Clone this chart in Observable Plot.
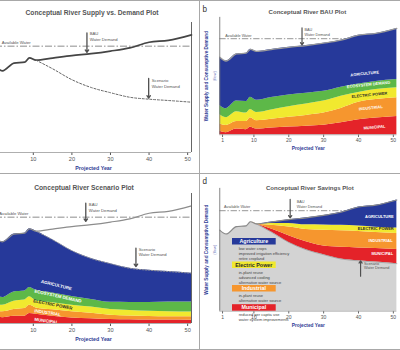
<!DOCTYPE html>
<html><head><meta charset="utf-8">
<script src="https://cdn.jsdelivr.net/npm/d3@7"></script>
<script src="https://cdn.jsdelivr.net/npm/@observablehq/plot@0.6"></script>
<style>
body{margin:0;background:#fff;}
#root{position:relative;width:400px;height:350px;overflow:hidden;background:#fff;font-family:"Liberation Sans",Arial,Helvetica,sans-serif;}
.panel{position:absolute;}
.hline{position:absolute;left:0;width:400px;height:0;border-top:1px solid #a8a8a8;}
.vline{position:absolute;top:0;height:350px;width:0;border-left:1px solid #a8a8a8;}
#legend{position:absolute;left:232.3px;top:237.6px;overflow:visible;}
</style></head>
<body><div id="root"></div>
<script>
// ---------- data ----------
const years          = [0.2, 2, 5, 7.8, 9, 10.7, 15, 20, 25, 30, 35, 40, 45, 51];
const xTicks         = [1, 10, 20, 30, 40, 50];
const availableWater = 81.8;
const bauDemand      = [66, 62.8, 68.8, 69.5, 72.8, 71, 72.6, 74.5, 76, 78, 80.5, 84.8, 86.3, 90.5];
const scenarioDemand = [66, 62.8, 68.8, 69.5, 72.8, 71, 64.4, 56, 50, 46, 42.5, 41, 40, 38.7];

// BAU consumptive demand by sector
const bauMunicipal   = [3, 1.8, 4.9, 4.4, 6.4, 4.9, 5.9, 6.7, 7.4, 8.2, 10.3, 12.8, 14.3, 15.5];
const bauIndustrial  = [6.5, 6.2, 6.4, 6.9, 8.2, 7.1, 7.4, 8.3, 9.1, 10.3, 12.2, 14.9, 15.8, 16];
const bauElectric    = [7.5, 6.6, 8.4, 7.2, 6.9, 7, 7.9, 9, 9.7, 10.2, 10.3, 8.3, 8.4, 8.5];
const bauEcosystem   = [8, 7.7, 9, 9.8, 10.5, 10.5, 10.6, 10, 9.3, 8.3, 7.7, 7.2, 7, 7];
const bauAgriculture = [41, 40.5, 40.1, 41.2, 40.8, 41.5, 40.8, 40.5, 40.5, 41, 40, 41.6, 40.8, 43.5];

// Scenario consumptive demand by sector
const scnMunicipal   = [4.8, 4.5, 5.6, 5.6, 7.7, 7.2, 5.5, 4.2, 3.6, 3, 2.8, 2.6, 2.6, 2.5];
const scnIndustrial  = [4.7, 4.5, 5.2, 5.9, 6.3, 4.8, 5, 4.8, 4.2, 3.4, 3, 2.8, 2.6, 2.6];
const scnElectric    = [5.5, 5, 6.4, 6.5, 6.5, 5.5, 5.5, 5, 4.8, 4.4, 4.2, 4, 3.9, 3.8];
const scnEcosystem   = [6, 6, 7.1, 7, 7.2, 8, 7.5, 6.8, 5.9, 5.5, 6.2, 6.8, 7.4, 7.7];
const scnAgriculture = [45, 42.8, 44.5, 44.5, 45.1, 45.5, 40.9, 35.2, 31.5, 29.7, 26.3, 24.8, 23.5, 22.1];

// Savings (BAU minus scenario) by sector
const savMunicipal   = [0, 0, 0, 0, 0, 0, 2.5, 5.5, 6.5, 7, 9.5, 10.5, 11, 11.5];
const savIndustrial  = [0, 0, 0, 0, 0, 0, 3, 7, 10, 13, 13.5, 13.5, 13, 13];
const savElectric    = [0, 0, 0, 0, 0, 0, 1.5, 3, 3.8, 4.2, 4.4, 4.4, 4.4, 4.5];
const savAgriculture = [0, 0, 0, 0, 0, 0, 1.2, 3, 5.7, 7.8, 10.6, 15.4, 17.9, 22.8];

const sectors      = ["Municipal", "Industrial", "Electric Power", "Ecosystem Demand", "Agriculture", "Scenario"];
const sectorColors = ["#e42329", "#f6962e", "#f1e92f", "#5db848", "#26399a", "#d3d3d3"];

const savingsMeasures = [
  {sector: "Agriculture", notes: ["low water crops", "improved irrigation efficiency", "retire cropland"]},
  {sector: "Electric Power", notes: ["in-plant reuse", "advanced cooling", "alternative water source"]},
  {sector: "Industrial", notes: ["in-plant reuse", "alternative water source"]},
  {sector: "Municipal", notes: ["reduced per capita use", "water system improvements"]}
];

// annotation anchors (year, value)
const arrowsA = [{x: 23.9, y1: 92, y2: 77}, {x: 39.9, y1: 57, y2: 41.8}];
const notesA  = [{x: 24.6, y: 93, text: "BAU\nWater Demand"}, {x: 40.7, y: 57, text: "Scenario\nWater Demand"}];
const arrowsB = [{x: 23.8, y1: 91, y2: 76.5}];
const notesB  = [{x: 24.5, y: 91.5, text: "BAU\nWater Demand"}];
const arrowsC = [{x: 23.6, y1: 92.5, y2: 78.5}, {x: 36.6, y1: 58, y2: 43.8}];
const notesC  = [{x: 24.4, y: 93.3, text: "BAU\nWater Demand"}, {x: 37.3, y: 59, text: "Scenario\nWater Demand"}];
const arrowsD = [{x: 20.4, y1: 91, y2: 76}, {x: 40.6, y1: 28.5, y2: 41}];
const notesD  = [{x: 22.3, y: 91, text: "BAU\nWater Demand"}, {x: 41.6, y: 40.8, text: "Scenario\nWater Demand"}];

const labelsB = [
  {sector: "Agriculture", x: 37.7, y: 50.8, r: -6},
  {sector: "Ecosystem Demand", x: 36.7, y: 40.8, r: -6},
  {sector: "Electric Power", x: 38, y: 32.3, r: -6},
  {sector: "Industrial", x: 40.1, y: 21.8, r: -6},
  {sector: "Municipal", x: 41.5, y: 5.6, r: -5}
];
const labelsC = [
  {sector: "Agriculture", x: 12, y: 32.5, r: 14},
  {sector: "Ecosystem Demand", x: 10.3, y: 25, r: 12.5},
  {sector: "Electric Power", x: 10, y: 17.5, r: 11},
  {sector: "Industrial", x: 10.3, y: 9.8, r: 8.5},
  {sector: "Municipal", x: 10.3, y: 3.2, r: 7.5}
];
const labelsD = [
  {sector: "Agriculture", x: 41.9, y: 77.2, r: 0},
  {sector: "Electric Power", x: 39.8, y: 67.3, r: 0},
  {sector: "Industrial", x: 42.9, y: 57.4, r: 0},
  {sector: "Municipal", x: 43.7, y: 47, r: 0}
];

// ---------- helpers ----------
const FONT = '"Liberation Sans", Arial, Helvetica, sans-serif';
const LABEL_BLUE = "#2e3c94";
const rows = (arr, from = 0) => years.map((year, i) => ({year, value: arr[i]})).slice(from);
const stackRows = (series) => series.flatMap(([sector, arr]) => arr.map((v, i) => ({year: years[i], value: v, sector})));
const textColor = (s) => s === "Electric Power" ? "#2a2a2a" : "#ffffff";

function base(plotH, ticks) {
  return {
    width: 228, height: 22 + plotH + 20,
    marginLeft: 28, marginRight: 4, marginTop: 22, marginBottom: 20,
    x: {domain: [0.2, 51], ticks, tickSize: 3, tickPadding: 1.5, label: null},
    y: {domain: [0, 100], axis: null},
    color: {domain: sectors, range: sectorColors},
    style: {fontFamily: FONT, fontSize: "5.6px", color: "#555", background: "transparent", overflow: "visible"}
  };
}
function common(title, dx, dy) {
  return [
    Plot.ruleY([0], {stroke: "#9a9a9a", strokeWidth: 0.8}),
    Plot.text(["Projected Year"], {text: d => d, frameAnchor: "bottom", dy: 17, fontSize: 5.3, fontWeight: "bold", fill: LABEL_BLUE}),
    Plot.text([title], {text: d => d, frameAnchor: "top", dx, dy, fontSize: 6.7, fontWeight: "bold", fill: "#555"})
  ];
}
const water = () => Plot.ruleY([availableWater], {stroke: "#6e6e6e", strokeWidth: 0.8, strokeDasharray: "7,2,1.5,2"});
const waterLabel = (x) => Plot.text([{x, y: 84.6}], {x: "x", y: "y", text: () => "Available Water", textAnchor: "start", fontSize: 4.2, fill: "#555"});
const arrows = (a) => Plot.arrow(a, {x1: "x", x2: "x", y1: "y1", y2: "y2", stroke: "#505050", strokeWidth: 1.3, headLength: 3.5, headAngle: 70});
const notes = (n) => Plot.text(n, {x: "x", y: "y", text: "text", textAnchor: "start", lineAnchor: "top", fontSize: 4.2, lineHeight: 1.3, fill: "#555"});
const layerLabels = (l) => Plot.text(l, {x: "x", y: "y", text: d => d.sector.toUpperCase(), rotate: "r", textAnchor: "start", fontSize: 4.4, fontWeight: "bold", fill: d => textColor(d.sector)});
const yLabels = () => [
  Plot.text(["Water Supply and Consumptive Demand"], {text: d => d, frameAnchor: "left", rotate: -90, dx: -14.6, textAnchor: "middle", lineAnchor: "middle", fontSize: 5.2, fontWeight: "bold", fill: LABEL_BLUE}),
  Plot.text(["(flow)"], {text: d => d, frameAnchor: "left", rotate: -90, dx: -5.3, textAnchor: "middle", lineAnchor: "middle", fontSize: 4.5, fill: "#7a82bf"})
];
const letter = (t, dy) => Plot.text([t], {text: d => d, frameAnchor: "top-left", dx: -16.5, dy, textAnchor: "middle", lineAnchor: "middle", fontSize: 9, fill: "#333"});

// left-hand panels are cropped, so their year-1 tick is not shown
const cropTicks = xTicks.filter(t => t >= 10);

// ---------- panel a ----------
const pa = Plot.plot({...base(130, cropTicks), marks: [
  water(),
  Plot.ruleX([51], {stroke: "#666", strokeWidth: 1}),
  Plot.line(rows(bauDemand), {x: "year", y: "value", stroke: "#454545", strokeWidth: 1.7, curve: "monotone-x"}),
  Plot.line(rows(scenarioDemand, 5), {x: "year", y: "value", stroke: "#666", strokeWidth: 1, strokeDasharray: "2,1.8", curve: "monotone-x"}),
  arrows(arrowsA), notes(notesA), waterLabel(1.8),
  ...common("Conceptual River Supply vs. Demand Plot", -1.5, -12.7)
]});

// ---------- panel b ----------
const bauRows = stackRows([["Municipal", bauMunicipal], ["Industrial", bauIndustrial], ["Electric Power", bauElectric], ["Ecosystem Demand", bauEcosystem], ["Agriculture", bauAgriculture]]);
const pb = Plot.plot({...base(130, xTicks), marks: [
  water(),
  Plot.areaY(bauRows, {x: "year", y: "value", z: "sector", fill: "sector", curve: "monotone-x"}),
  Plot.line(rows(bauDemand), {x: "year", y: "value", stroke: "#9a9a9a", strokeWidth: 1.4, curve: "monotone-x"}),
  Plot.ruleX([0.2], {stroke: "#7a7a7a", strokeWidth: 1}),
  layerLabels(labelsB), arrows(arrowsB), notes(notesB), waterLabel(1.8),
  ...yLabels(), letter("b", -9),
  ...common("Conceptual River BAU Plot", -1, -9)
]});

// ---------- panel c ----------
const scnRows = stackRows([["Municipal", scnMunicipal], ["Industrial", scnIndustrial], ["Electric Power", scnElectric], ["Ecosystem Demand", scnEcosystem], ["Agriculture", scnAgriculture]]);
const pc = Plot.plot({...base(130, cropTicks), marks: [
  water(),
  Plot.areaY(scnRows, {x: "year", y: "value", z: "sector", fill: "sector", curve: "monotone-x"}),
  Plot.line(rows(bauDemand), {x: "year", y: "value", stroke: "#8c8c8c", strokeWidth: 1.2, curve: "monotone-x"}),
  Plot.line(rows(scenarioDemand, 5), {x: "year", y: "value", stroke: "#9a9a9a", strokeWidth: 0.9, strokeDasharray: "1.6,1.4", curve: "monotone-x"}),
  Plot.ruleX([51], {stroke: "#666", strokeWidth: 1}),
  layerLabels(labelsC), arrows(arrowsC), notes(notesC), waterLabel(1.2),
  ...common("Conceptual River Scenario Plot", -9.5, -8.3)
]});

// ---------- panel d ----------
const savRows = stackRows([["Scenario", scenarioDemand], ["Municipal", savMunicipal], ["Industrial", savIndustrial], ["Electric Power", savElectric], ["Agriculture", savAgriculture]]);
const pd = Plot.plot({...base(136, xTicks), marks: [
  water(),
  Plot.areaY(savRows, {x: "year", y: "value", z: "sector", fill: "sector", curve: "monotone-x"}),
  Plot.line(rows(scenarioDemand, 5), {x: "year", y: "value", stroke: "#9a9a9a", strokeWidth: 0.8, curve: "monotone-x"}),
  Plot.line(rows(bauDemand), {x: "year", y: "value", stroke: "#8a8a8a", strokeWidth: 1.3, curve: "monotone-x"}),
  Plot.ruleX([0.2], {stroke: "#7a7a7a", strokeWidth: 1}),
  layerLabels(labelsD), arrows(arrowsD), notes(notesD), waterLabel(1.45),
  ...yLabels(), letter("d", -7.5),
  ...common("Conceptual River Savings Plot", 1.7, -3)
]});

// ---------- layout ----------
const root = document.getElementById("root");
function place(node, left, top) {
  const d = document.createElement("div");
  d.className = "panel"; d.style.left = left + "px"; d.style.top = top + "px";
  d.appendChild(node); root.appendChild(d);
}
place(pa, -33.5, 0);
place(pb, 194, -3);
place(pc, -33.5, 171.3);
place(pd, 194, 168);

// savings measures legend (panel d), drawn as SVG; each block's notes are one multi-line text
const colorOf = Object.fromEntries(sectors.map((s, i) => [s, sectorColors[i]]));
const BOX_W = 43.7, BOX_H = 6.5, NOTE_H = 5.1;
const svg = d3.select(root).append("svg").attr("id", "legend").attr("width", 70).attr("height", 92)
  .style("font-family", FONT);
let cy = 0;
for (const m of savingsMeasures) {
  const g = svg.append("g").attr("transform", `translate(0,${cy})`);
  g.append("rect").attr("width", BOX_W).attr("height", BOX_H).attr("fill", colorOf[m.sector]);
  g.append("text").attr("x", BOX_W / 2).attr("y", BOX_H / 2).attr("dy", "0.35em")
    .attr("text-anchor", "middle").attr("font-size", 5.4).attr("font-weight", "bold")
    .attr("fill", textColor(m.sector)).text(m.sector);
  const t = g.append("text").attr("font-size", 4.0).attr("fill", "#444")
    .attr("transform", `translate(6.7,${BOX_H + 1.6 + NOTE_H / 2})`);
  m.notes.forEach((line, i) => {
    t.append("tspan").attr("x", 0).attr("y", NOTE_H * i).attr("dy", "0.35em").text(line);
  });
  cy += BOX_H + 1.6 + NOTE_H * m.notes.length + (m.notes.length > 2 ? 0.1 : 0.9);
}

// panel borders
for (const [cls, pos] of [["hline", 0], ["hline", 173], ["hline", 349], ["vline", 199]]) {
  const l = document.createElement("div");
  l.className = cls;
  if (cls === "hline") l.style.top = pos + "px"; else l.style.left = pos + "px";
  root.appendChild(l);
}
</script>
</body></html>
